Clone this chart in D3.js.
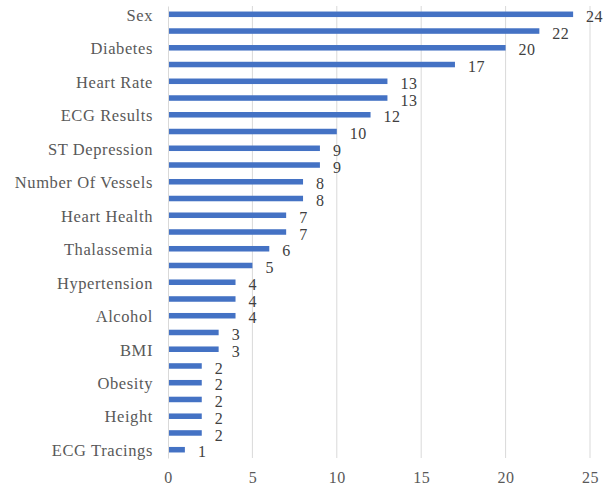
<!DOCTYPE html>
<html>
<head>
<meta charset="utf-8">
<script src="https://cdn.jsdelivr.net/npm/d3@7"></script>
<style>
  body { margin: 0; background: #fff; }
  .chart text { font-family: "Liberation Serif", "Times New Roman", serif; }
</style>
</head>
<body>
<div class="chart"></div>
<script>
// categories, top to bottom (only every other label is printed on the chart)
var labels = ["Sex", "", "Diabetes", "", "Heart Rate", "", "ECG Results", "",
  "ST Depression", "", "Number Of Vessels", "", "Heart Health", "", "Thalassemia", "",
  "Hypertension", "", "Alcohol", "", "BMI", "", "Obesity", "", "Height", "", "ECG Tracings"];
var values = [24, 22, 20, 17, 13, 13, 12, 10, 9, 9, 8, 8, 7, 7, 6, 5, 4, 4, 4, 3, 3, 2, 2, 2, 2, 2, 1];
var xTicks = [0, 5, 10, 15, 20, 25];

function barChart() {
  var width = 607, height = 488;
  var plotLeft = 168, plotRight = 590, plotTop = 6, plotBottom = 458;

  var svg = d3.select(".chart").append("svg")
      .attr("width", width)
      .attr("height", height);

  var x = d3.scaleLinear().domain([0, 25]).range([plotLeft, plotRight]);
  var y = d3.scaleBand()
      .domain(d3.range(values.length))
      .range([plotTop, plotBottom])
      .paddingInner(0.67)
      .paddingOuter(0.33);

  // gridlines
  svg.append("g")
      .selectAll("line")
      .data(xTicks.slice(1))
      .enter().append("line")
      .attr("x1", function(d) { return x(d); })
      .attr("x2", function(d) { return x(d); })
      .attr("y1", plotTop)
      .attr("y2", plotBottom)
      .attr("stroke", "#d9d9d9")
      .attr("stroke-width", 1);

  // x axis labels
  var xAxis = d3.axisBottom(x).tickValues(xTicks).tickSize(0).tickPadding(14);
  var gx = svg.append("g")
      .attr("transform", "translate(0," + plotBottom + ")")
      .call(xAxis);
  gx.select(".domain").remove();
  gx.selectAll("text")
      .attr("fill", "#595959")
      .style("font-size", "16px")
      .style("letter-spacing", "0.5px");

  // bars
  svg.append("g")
      .selectAll("rect")
      .data(values)
      .enter().append("rect")
      .attr("x", x(0))
      .attr("y", function(d, i) { return y(i); })
      .attr("width", function(d) { return x(d) - x(0); })
      .attr("height", y.bandwidth())
      .attr("fill", "#4472c4");

  // y axis with every other label
  var yAxis = d3.axisLeft(y)
      .tickSize(0)
      .tickPadding(15)
      .tickFormat(function(i) { return labels[i]; });
  var gy = svg.append("g")
      .attr("transform", "translate(" + x(0) + ",0)")
      .call(yAxis);
  gy.select(".domain").attr("stroke", "#d9d9d9");
  gy.selectAll("text")
      .attr("fill", "#595959")
      .attr("dy", "0.38em")
      .style("font-size", "16.5px")
      .style("letter-spacing", "0.6px");

  // value labels
  svg.append("g")
      .selectAll("text")
      .data(values)
      .enter().append("text")
      .attr("x", function(d) { return x(d) + 13; })
      .attr("y", function(d, i) { return y(i) + y.bandwidth() / 2 + 2; })
      .attr("dy", "0.35em")
      .attr("fill", "#404040")
      .style("font-size", "16px")
      .style("letter-spacing", "0.5px")
      .text(function(d) { return d; });
}
barChart();
</script>
</body>
</html>
